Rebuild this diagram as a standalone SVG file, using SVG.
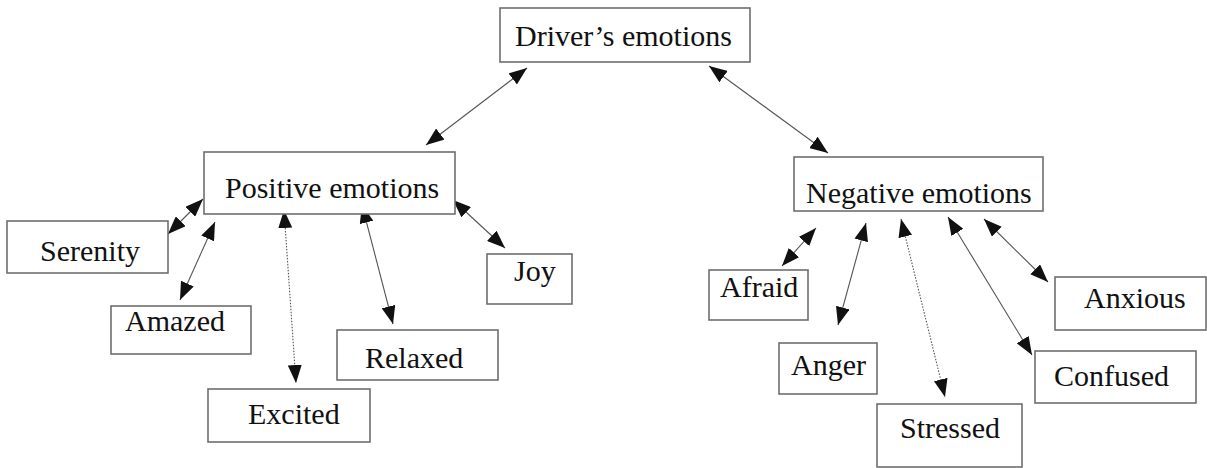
<svg xmlns="http://www.w3.org/2000/svg" width="1207" height="468" viewBox="0 0 1207 468">
<style>
.box{fill:#fff;stroke:#6e6e6e;stroke-width:1.6}
.lbl{font-family:"Liberation Serif","Times New Roman",serif;font-size:30px;fill:#111}
.con{stroke:#555;stroke-width:1.1;fill:none;marker-start:url(#ah);marker-end:url(#ah)}
.dot{stroke-dasharray:1.5 1.5}
</style>
<defs>
<marker id="ah" markerUnits="userSpaceOnUse" markerWidth="18" markerHeight="14" refX="18" refY="7" orient="auto-start-reverse">
<path d="M0,0 L18,7 L0,14 z" fill="#111"/>
</marker>
</defs>
<rect width="1207" height="468" fill="#fff"/>
<g id="connectors">
<line class="con" x1="527" y1="68" x2="426" y2="145"/>
<line class="con" x1="709" y1="66" x2="828" y2="153"/>
<line class="con" x1="203" y1="199" x2="168" y2="234"/>
<line class="con" x1="215" y1="222" x2="180" y2="300"/>
<line class="con dot" x1="284" y1="210" x2="296" y2="383"/>
<line class="con" x1="362" y1="205" x2="393" y2="324"/>
<line class="con" x1="453" y1="200" x2="505" y2="248"/>
<line class="con" x1="816" y1="228" x2="782" y2="266"/>
<line class="con" x1="866" y1="223" x2="838" y2="325"/>
<line class="con dot" x1="901" y1="219" x2="945" y2="397"/>
<line class="con" x1="948" y1="217" x2="1032" y2="355"/>
<line class="con" x1="984" y1="219" x2="1048" y2="282"/>
</g>
<g id="drivers"><rect class="box" x="500" y="8" width="250" height="54"/><text class="lbl" x="515" y="46">Driver’s emotions</text></g>
<g id="positive"><rect class="box" x="204" y="152" width="251" height="62"/><text class="lbl" x="225" y="198">Positive emotions</text></g>
<g id="negative"><rect class="box" x="794" y="157" width="249" height="54"/><text class="lbl" x="806" y="203">Negative emotions</text></g>
<g id="serenity"><rect class="box" x="7" y="221" width="161" height="52"/><text class="lbl" x="40" y="261">Serenity</text></g>
<g id="amazed"><rect class="box" x="111" y="306" width="140" height="48"/><text class="lbl" x="125" y="331">Amazed</text></g>
<g id="excited"><rect class="box" x="208" y="389" width="162" height="53"/><text class="lbl" x="248" y="424">Excited</text></g>
<g id="relaxed"><rect class="box" x="337" y="330" width="161" height="50"/><text class="lbl" x="365" y="368">Relaxed</text></g>
<g id="joy"><rect class="box" x="487" y="254" width="85" height="50"/><text class="lbl" x="514" y="281">Joy</text></g>
<g id="afraid"><rect class="box" x="709" y="270" width="99" height="50"/><text class="lbl" x="720" y="297">Afraid</text></g>
<g id="anger"><rect class="box" x="779" y="343" width="98" height="51"/><text class="lbl" x="791" y="375">Anger</text></g>
<g id="stressed"><rect class="box" x="877" y="404" width="145" height="63"/><text class="lbl" x="900" y="438">Stressed</text></g>
<g id="confused"><rect class="box" x="1035" y="351" width="161" height="52"/><text class="lbl" x="1054" y="386">Confused</text></g>
<g id="anxious"><rect class="box" x="1055" y="277" width="151" height="53"/><text class="lbl" x="1084" y="308">Anxious</text></g>
</svg>
